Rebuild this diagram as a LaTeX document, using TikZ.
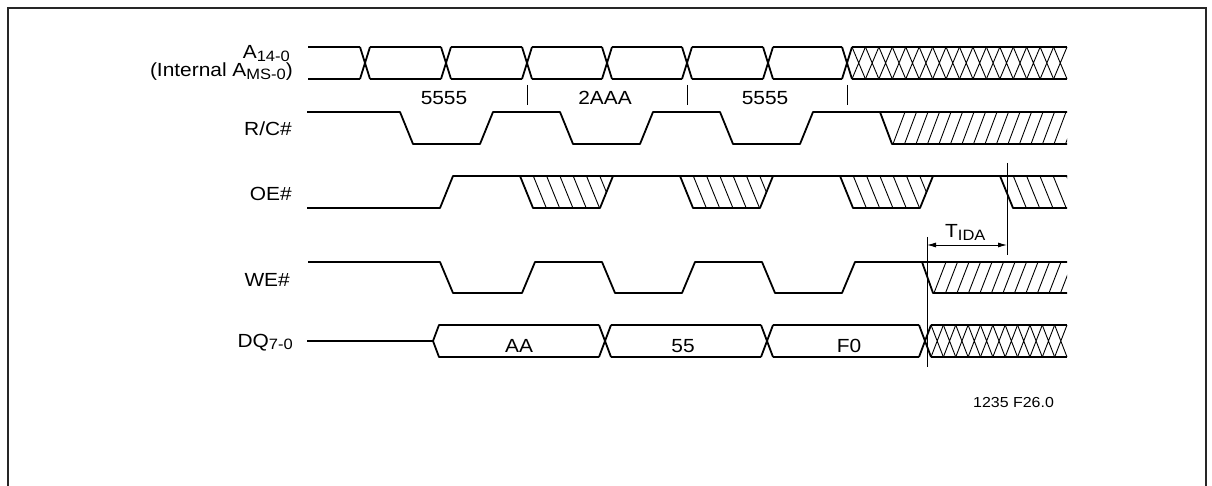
\documentclass[tikz,border=0pt]{standalone}
\usepackage{fontspec}
\setmainfont[FakeStretch=1.1]{Liberation Sans}
\usepackage{tikz}
\usetikzlibrary{calc,arrows.meta,positioning}
\newcommand\lowsub[1]{\raisebox{-2.5pt}{\fontsize{15}{15}\selectfont #1}}

\begin{document}
\begin{tikzpicture}
[x=1pt,y=-1pt,
 sig/.style={line width=1.8pt,line join=round},
 hatch/.style={line width=0.9pt},
 thin/.style={line width=1pt},
 lbl/.style={inner sep=0pt,font=\fontsize{19}{21}\selectfont},
 siglbl/.style={lbl,anchor=base east},
 dim/.style={line width=0.9pt,{Latex[length=9pt,width=5pt]}-{Latex[length=9pt,width=5pt]}}]
\useasboundingbox (0,0) rectangle (1212,486);
\draw[line width=2.2pt,black!85] (8,486) -- (8,8) -- (1206,8) -- (1206,486);

% signal names
\node[siglbl] (addr) at (290,59) {A\lowsub{14-0}};
\node[siglbl] (addrint) at (293,77) {(Internal A\lowsub{MS-0})};
\node[siglbl] (rc) at (292,136) {R/C\#};
\node[siglbl] (oe) at (292,201) {OE\#};
\node[siglbl] (we) at (290,287) {WE\#};
\node[siglbl] (dq) at (293,347) {DQ\lowsub{7-0}};

% address bus
\foreach \a/\b in {308/360,370/441,451/522,532/602,612/682,692/763,773/842}
	\draw[sig] (\a,47) -- (\b,47) (\a,79) -- (\b,79);
\foreach \x in {365,446,527,607,687,768,847}
	\draw[sig] (\x-5,47) -- (\x+5,79) (\x-5,79) -- (\x+5,47);
\draw[sig] (852,47) -- (1067,47) (852,79) -- (1067,79);
\foreach \i in {0,...,15}
	\draw[hatch] ({852+13.4375*\i},47) -- ({852+13.4375*(\i+1)},79)
	({852+13.4375*\i},79) -- ({852+13.4375*(\i+1)},47);
\foreach \x in {527,687,847}
	\draw[thin] (\x,85) -- (\x,105);
\node[lbl,anchor=base] (w1) at (444,105) {5555};
\node[lbl,anchor=base] (w2) at (605,105) {2AAA};
\node[lbl,anchor=base] (w3) at (765,105) {5555};

% R/C#
\draw[sig] (307,112) -- (400,112) -- (413,144) -- (480,144) -- (493,112) -- (560,112)
	-- (573,144) -- (640,144) -- (653,112) -- (720,112) -- (733,144) -- (800,144)
	-- (813,112) -- (1067,112);
\draw[sig] (880,112) -- (892,144) -- (1067,144);
\begin{scope}
	\clip (880,112) -- (1067,112) -- (1067,144) -- (892,144) -- cycle;
	\foreach \k in {0,...,15}
		\draw[hatch] ({893+11.5*\k},144) -- ({905+11.5*\k},112);
\end{scope}

% OE#
\draw[sig] (307,208) -- (440,208) -- (453,176) -- (1067,176);
\foreach \s in {520,680,840} {
	\draw[sig] (\s,176) -- (\s+13,208) -- (\s+80,208) -- (\s+93,176);
	\begin{scope}
		\clip (\s,176) -- (\s+13,208) -- (\s+80,208) -- (\s+93,176) -- cycle;
		\foreach \k in {1,...,6}
			\draw[hatch] ({\s+13.3*\k},176) -- ({\s+13+13.3*\k},208);
	\end{scope}
}
\draw[sig] (1000,176) -- (1013,208) -- (1067,208);
\begin{scope}
	\clip (1000,176) -- (1067,176) -- (1067,208) -- (1013,208) -- cycle;
	\foreach \k in {1,...,5}
		\draw[hatch] ({1000+13.3*\k},176) -- ({1013+13.3*\k},208);
\end{scope}

% WE#
\draw[sig] (308,262) -- (440,262) -- (453,293) -- (522,293) -- (535,262) -- (602,262)
	-- (615,293) -- (682,293) -- (695,262) -- (762,262) -- (775,293) -- (842,293)
	-- (855,262) -- (1067,262);
\draw[sig] (922,262) -- (933,293) -- (1067,293);
\begin{scope}
	\clip (922,262) -- (1067,262) -- (1067,293) -- (933,293) -- cycle;
	\foreach \k in {0,...,11}
		\draw[hatch] ({934+11.5*\k},293) -- ({946+11.5*\k},262);
\end{scope}

% DQ
\draw[sig] (307,341) -- (433,341) -- (439,325) -- (599,325) (433,341) -- (439,357) -- (599,357);
\foreach \a/\b in {611/761,773/919}
	\draw[sig] (\a,325) -- (\b,325) (\a,357) -- (\b,357);
\foreach \x in {605,767,925}
	\draw[sig] (\x-6,325) -- (\x+6,357) (\x-6,357) -- (\x+6,325);
\draw[sig] (931,325) -- (1067,325) (931,357) -- (1067,357);
\foreach \i in {0,...,10}
	\draw[hatch] ({931+12.3636*\i},325) -- ({931+12.3636*(\i+1)},357)
	({931+12.3636*\i},357) -- ({931+12.3636*(\i+1)},325);
\node[lbl,anchor=base] (d1) at (519,352) {AA};
\node[lbl,anchor=base] (d2) at (683,352) {55};
\node[lbl,anchor=base] (d3) at (849,352) {F0};

% T_IDA
\coordinate (tstart) at (927,245);
\coordinate (tend) at (1007,245);
\draw[thin] (927,237) -- (927,367);
\draw[thin] (1007,163) -- (1007,255);
\draw[dim] (tstart) -- (tend);
\node[lbl,anchor=base west] (tida) at (945,238) {T\lowsub{IDA}};

\node[inner sep=0pt,anchor=base west,font=\fontsize{14.5}{16}\selectfont] (fig) at (973,407) {1235 F26.0};
\end{tikzpicture}
\end{document}
